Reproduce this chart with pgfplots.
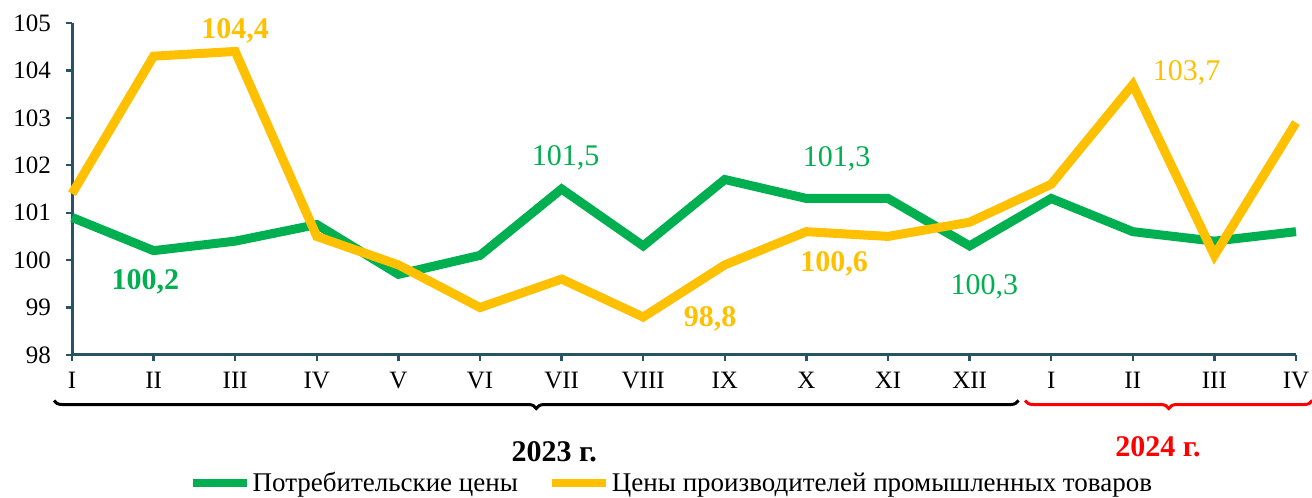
\documentclass[border=0pt]{standalone}
\usepackage{fontspec}
\setmainfont{Liberation Serif}
\usepackage{pgfplots}
\pgfplotsset{compat=1.18}
\usetikzlibrary{decorations.pathreplacing}
\definecolor{cg}{RGB}{0,176,80}
\definecolor{cy}{RGB}{255,192,0}
\definecolor{axc}{RGB}{38,84,100}
\begin{document}
\begin{tikzpicture}
\begin{axis}[name=main,
  scale only axis, width=612bp, height=166bp,
  xmin=0, xmax=15, ymin=98, ymax=105,
  axis x line*=bottom, axis y line*=left,
  axis line style={-, axc, line width=1.5bp},
  xtick={0,...,15},
  xticklabels={I,II,III,IV,V,VI,VII,VIII,IX,X,XI,XII,I,II,III,IV},
  ytick={98,...,105},
  tick style={axc, line width=1.2bp},
  tick align=outside, major tick length=3bp,
  ticklabel style={font=\fontsize{12.5bp}{13bp}\selectfont, text=black},
  xticklabel style={yshift=-2bp},
  yticklabel style={xshift=-4bp},
  /pgf/number format/assume math mode=true,
  clip=false,
  legend columns=2,
  legend style={draw=none, fill=none, inner sep=0pt, at={(0.095,-0.387)}, anchor=west,
    font=\fontsize{13.5bp}{14bp}\selectfont,
    nodes={inner sep=1bp},
    /tikz/every even column/.append style={column sep=14bp}},
  legend image code/.code={\draw[line width=4bp] (0bp,0bp) -- (27bp,0bp);},
]
\addplot[cg, line width=4.5bp, line join=miter] coordinates {
(0,100.9) (1,100.2) (2,100.4) (3,100.75) (4,99.7) (5,100.1) (6,101.5) (7,100.3)
(8,101.7) (9,101.3) (10,101.3) (11,100.3) (12,101.3) (13,100.6) (14,100.4) (15,100.6)};
\addlegendentry{Потребительские цены}
\addplot[cy, line width=4.5bp, line join=miter] coordinates {
(0,101.4) (1,104.3) (2,104.4) (3,100.5) (4,99.9) (5,99.0) (6,99.6) (7,98.8)
(8,99.9) (9,100.6) (10,100.5) (11,100.8) (12,101.6) (13,103.7) (14,100.1) (15,102.9)};
\addlegendentry{Цены производителей промышленных товаров}

\node[font=\fontsize{15bp}{15bp}\selectfont\bfseries, text=cy] at (axis cs:2.0,104.83) {104,4};
\node[font=\fontsize{15bp}{15bp}\selectfont\bfseries, text=cg] at (axis cs:0.9,99.54) {100,2};
\node[font=\fontsize{15bp}{15bp}\selectfont, text=cg] at (axis cs:6.05,102.16) {101,5};
\node[font=\fontsize{15bp}{15bp}\selectfont, text=cg] at (axis cs:9.37,102.14) {101,3};
\node[font=\fontsize{15bp}{15bp}\selectfont\bfseries, text=cy] at (axis cs:7.82,98.76) {98,8};
\node[font=\fontsize{15bp}{15bp}\selectfont\bfseries, text=cy] at (axis cs:9.34,99.92) {100,6};
\node[font=\fontsize{15bp}{15bp}\selectfont, text=cg] at (axis cs:11.18,99.43) {100,3};
\node[font=\fontsize{15bp}{15bp}\selectfont, text=cy] at (axis cs:13.66,103.95) {103,7};

\draw[decorate, decoration={brace, mirror, amplitude=4bp}, line width=1.5bp, black]
  (axis cs:-0.22,97.04) -- (axis cs:11.6,97.04);
\draw[decorate, decoration={brace, mirror, amplitude=4bp}, line width=1.5bp, red]
  (axis cs:11.68,97.04) -- (axis cs:15.2,97.04);
\node[font=\fontsize{15bp}{15bp}\selectfont\bfseries] at (axis cs:5.91,95.97) {2023 г.};
\node[font=\fontsize{15bp}{15bp}\selectfont\bfseries, text=red] at (axis cs:13.31,96.07) {2024 г.};
\end{axis}
\pgfresetboundingbox
\path[use as bounding box] ([xshift=-36bp,yshift=-71.5bp]main.south west) rectangle ([xshift=8bp,yshift=11.5bp]main.north east);
\end{tikzpicture}
\end{document}
